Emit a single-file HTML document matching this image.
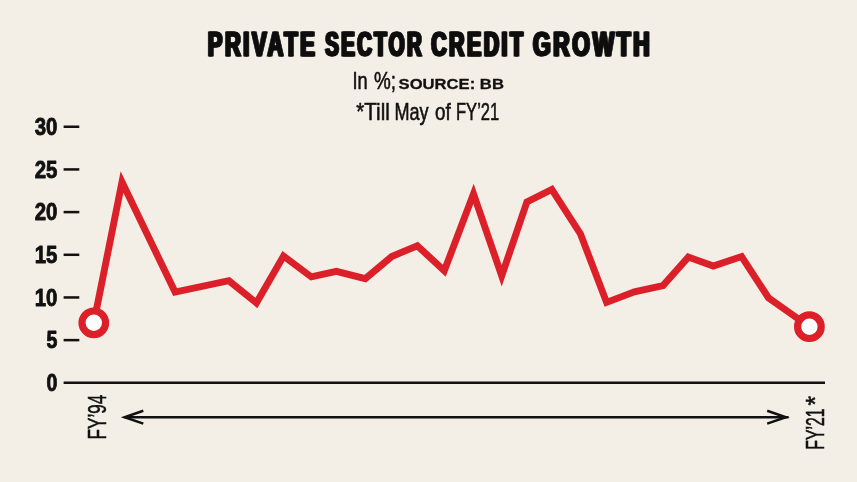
<!DOCTYPE html>
<html><head><meta charset="utf-8"><title>Private sector credit growth</title>
<style>html,body{margin:0;padding:0;background:#f3efe6;}svg{display:block}text{font-family:"Liberation Sans",sans-serif;fill:#111}</style></head><body>
<svg width="857" height="482" viewBox="0 0 857 482">
<defs>
<filter id="hb" x="-5%" y="-20%" width="110%" height="140%"><feOffset in="SourceGraphic" dx="-0.75" result="a"/><feOffset in="SourceGraphic" dx="0.75" result="b"/><feMerge><feMergeNode in="a"/><feMergeNode in="SourceGraphic"/><feMergeNode in="b"/></feMerge></filter>
</defs>
<rect width="857" height="482" fill="#f3efe6"/>
<g filter="url(#hb)" font-size="35.8" font-weight="700" stroke="#111" stroke-width="1.0" letter-spacing="4.2">
<text x="207.80" y="56.2" textLength="109.60" lengthAdjust="spacingAndGlyphs">PRIVATE</text>
<text x="325.29" y="56.2" textLength="98.75" lengthAdjust="spacingAndGlyphs">SECTOR</text>
<text x="431.19" y="56.2" textLength="94.35" lengthAdjust="spacingAndGlyphs">CREDIT</text>
<text x="532.97" y="56.2" textLength="119.32" lengthAdjust="spacingAndGlyphs">GROWTH</text>
</g>
<g font-size="23.2" stroke="#111" stroke-width="0.55">
<text x="352.44" y="88.6" textLength="15.20" lengthAdjust="spacingAndGlyphs">In</text>
<text x="374.00" y="88.6" textLength="22.00" lengthAdjust="spacingAndGlyphs">%;</text>
</g>
<g font-size="15.2" font-weight="700" stroke="#111" stroke-width="0.3" style="font-family:'DejaVu Sans','Liberation Sans',sans-serif">
<text x="398.56" y="88.6" textLength="105.36" lengthAdjust="spacingAndGlyphs">SOURCE: BB</text>
</g>
<g font-size="23.2" stroke="#111" stroke-width="0.55">
<text x="356.26" y="120.4" textLength="33.57" lengthAdjust="spacingAndGlyphs">*Till</text>
<text x="394.42" y="120.4" textLength="34.18" lengthAdjust="spacingAndGlyphs">May</text>
<text x="435.05" y="120.4" textLength="15.74" lengthAdjust="spacingAndGlyphs">of</text>
<text x="456.00" y="120.4" textLength="43.20" lengthAdjust="spacingAndGlyphs">FY’21</text>
</g>
<text x="34.75" y="135.00" font-size="24" font-weight="700" stroke="#111" stroke-width="0.9" stroke-linejoin="round" textLength="22.7" lengthAdjust="spacingAndGlyphs">30</text>
<rect x="63.6" y="125.50" width="15.7" height="2.5" fill="#111"/>
<text x="34.75" y="177.68" font-size="24" font-weight="700" stroke="#111" stroke-width="0.9" stroke-linejoin="round" textLength="22.7" lengthAdjust="spacingAndGlyphs">25</text>
<rect x="63.6" y="168.18" width="15.7" height="2.5" fill="#111"/>
<text x="34.75" y="220.35" font-size="24" font-weight="700" stroke="#111" stroke-width="0.9" stroke-linejoin="round" textLength="22.7" lengthAdjust="spacingAndGlyphs">20</text>
<rect x="63.6" y="210.85" width="15.7" height="2.5" fill="#111"/>
<text x="34.75" y="263.02" font-size="24" font-weight="700" stroke="#111" stroke-width="0.9" stroke-linejoin="round" textLength="22.7" lengthAdjust="spacingAndGlyphs">15</text>
<rect x="63.6" y="253.53" width="15.7" height="2.5" fill="#111"/>
<text x="34.75" y="305.70" font-size="24" font-weight="700" stroke="#111" stroke-width="0.9" stroke-linejoin="round" textLength="22.7" lengthAdjust="spacingAndGlyphs">10</text>
<rect x="63.6" y="296.20" width="15.7" height="2.5" fill="#111"/>
<text x="46.55" y="348.38" font-size="24" font-weight="700" stroke="#111" stroke-width="0.9" stroke-linejoin="round" textLength="10.9" lengthAdjust="spacingAndGlyphs">5</text>
<rect x="63.6" y="338.88" width="15.7" height="2.5" fill="#111"/>
<text x="46.55" y="391.05" font-size="24" font-weight="700" stroke="#111" stroke-width="0.9" stroke-linejoin="round" textLength="10.9" lengthAdjust="spacingAndGlyphs">0</text>
<rect x="63.6" y="381.5" width="761.4" height="2.5" fill="#111"/>
<path d="M124.5,417.2 H788.5" stroke="#111" stroke-width="2.5" fill="none"/>
<path d="M143.3,410.8 L124.6,417.2 L143.3,423.6" stroke="#111" stroke-width="2.5" fill="none"/>
<path d="M767.2,410.8 L785.9,417.2 L767.2,423.6" stroke="#111" stroke-width="2.5" fill="none"/>
<text transform="translate(105.7,439.4) rotate(-90)" font-size="25.2" stroke="#111" stroke-width="0.55" textLength="44.6" lengthAdjust="spacingAndGlyphs">FY’94</text>
<g transform="translate(824.3,449.8) rotate(-90)" font-size="25.2" stroke="#111" stroke-width="0.55"><text textLength="41.5" lengthAdjust="spacingAndGlyphs">FY’21</text><text x="44.4" y="0" textLength="9.6" lengthAdjust="spacingAndGlyphs">*</text></g>
<path d="M93.8,322.8 L122.0,182.0 L175.1,292.1 L228.9,280.7 L256.4,303.0 L283.5,256.1 L311.3,276.9 L336.4,271.4 L365.3,278.7 L391.7,256.5 L417.3,245.7 L444.3,270.8 L473.5,193.9 L501.7,275.8 L526.9,202.0 L551.8,189.4 L580.5,234.0 L606.6,302.4 L634.4,291.8 L663.0,285.6 L688.3,257.1 L713.3,266.0 L741.6,256.6 L768.4,297.7 L809.4,326.7" stroke="#db2029" stroke-width="6.9" fill="none" stroke-linejoin="miter" stroke-miterlimit="6"/>
<circle cx="93.8" cy="322.8" r="11.8" fill="#fff" stroke="#db2029" stroke-width="7.2"/>
<circle cx="809.4" cy="326.7" r="11.8" fill="#fff" stroke="#db2029" stroke-width="7.2"/>
</svg></body></html>
